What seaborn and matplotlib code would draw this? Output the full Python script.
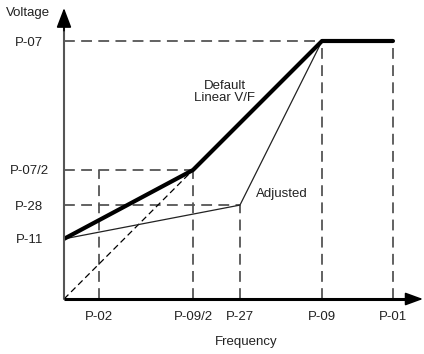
import matplotlib
matplotlib.use('Agg')
import matplotlib.pyplot as plt
import seaborn as sns

# Values in relative units (P-09 = 1 on frequency, P-07 = 1 on voltage)
freq_labels = ['P-02', 'P-09/2', 'P-27', 'P-09', 'P-01']
freq_values = [0.136, 0.5, 0.682, 1.0, 1.275]
volt_labels = ['P-11', 'P-28', 'P-07/2', 'P-07']
volt_values = [0.233, 0.364, 0.5, 1.0]

default_f = [0.0, 0.5, 1.0, 1.275]
default_v = [0.233, 0.5, 1.0, 1.0]
adjusted_f = [0.0, 0.682, 1.0]
adjusted_v = [0.233, 0.364, 1.0]
linear_f = [0.0, 0.5]
linear_v = [0.0, 0.5]

sns.set_theme(style='white')
plt.rcParams['font.family'] = ['Liberation Sans', 'DejaVu Sans']

W, H = 424, 354
fig = plt.figure(figsize=(W / 100, H / 100), dpi=100)
ax = fig.add_axes([64 / W, (H - 299) / H, (423 - 64) / W, (299 - 8) / H])
ax.set_xlim(0, 359 / 258)
ax.set_ylim(0, 291 / 258)
for s in ax.spines.values():
    s.set_visible(False)

grey = '#555555'
dash = dict(color=grey, lw=1.3, dashes=(6, 3.5))

# guide lines
ax.plot([0, 1.0], [1.0, 1.0], **dash)
ax.plot([0, 0.5], [0.5, 0.5], **dash)
ax.plot([0, 0.682], [0.364, 0.364], **dash)
ax.plot([0.136, 0.136], [0, 0.5], **dash)
ax.plot([0.5, 0.5], [0, 0.5], **dash)
ax.plot([0.682, 0.682], [0, 0.364], **dash)
ax.plot([1.0, 1.0], [0, 1.0], **dash)
ax.plot([1.275, 1.275], [0, 1.0], **dash)

sns.lineplot(x=linear_f, y=linear_v, ax=ax, color='black', lw=0.9,
             linestyle=(0, (5, 3)), sort=False)
sns.lineplot(x=adjusted_f, y=adjusted_v, ax=ax, color='#222222', lw=0.9, sort=False)
sns.lineplot(x=default_f, y=default_v, ax=ax, color='black', lw=3.0, sort=False)

# axes with arrows
ax.plot([0, 0], [0, 1.07], color=grey, lw=1.5, clip_on=False)
ax.annotate('', xy=(0, 291 / 258), xytext=(0, 1.04),
            arrowprops=dict(arrowstyle='-|>,head_length=1.0,head_width=0.38',
                            color='black', lw=1.2, shrinkA=0, shrinkB=0),
            annotation_clip=False)
ax.plot([0, 1.33], [0, 0], color='black', lw=2.2, clip_on=False, solid_capstyle='butt')
ax.annotate('', xy=(359 / 258, 0), xytext=(1.31, 0),
            arrowprops=dict(arrowstyle='-|>,head_length=0.9,head_width=0.33',
                            color='black', lw=1.2, shrinkA=0, shrinkB=0),
            annotation_clip=False)

ax.set_xticks(freq_values)
ax.set_xticklabels(freq_labels)
ax.set_yticks(volt_values)
ax.set_yticklabels(volt_labels, ha='center')
ax.tick_params(axis='both', length=0, labelsize=9.5, colors='#222222')
ax.tick_params(axis='x', pad=9)
ax.tick_params(axis='y', pad=25)

fig.text(28 / W, 1 - 13 / H, 'Voltage', ha='center', va='center', fontsize=9.5, color='#222222')
fig.text(246 / W, 1 - 342 / H, 'Frequency', ha='center', va='center', fontsize=9.5, color='#222222')
fig.text(225 / W, 1 - 92 / H, 'Default\nLinear V/F', ha='center', va='center',
         fontsize=9.5, color='#222222', linespacing=1.0)
fig.text(282 / W, 1 - 194 / H, 'Adjusted', ha='center', va='center', fontsize=9.5, color='#222222')

fig.savefig('out.png', dpi=100)
